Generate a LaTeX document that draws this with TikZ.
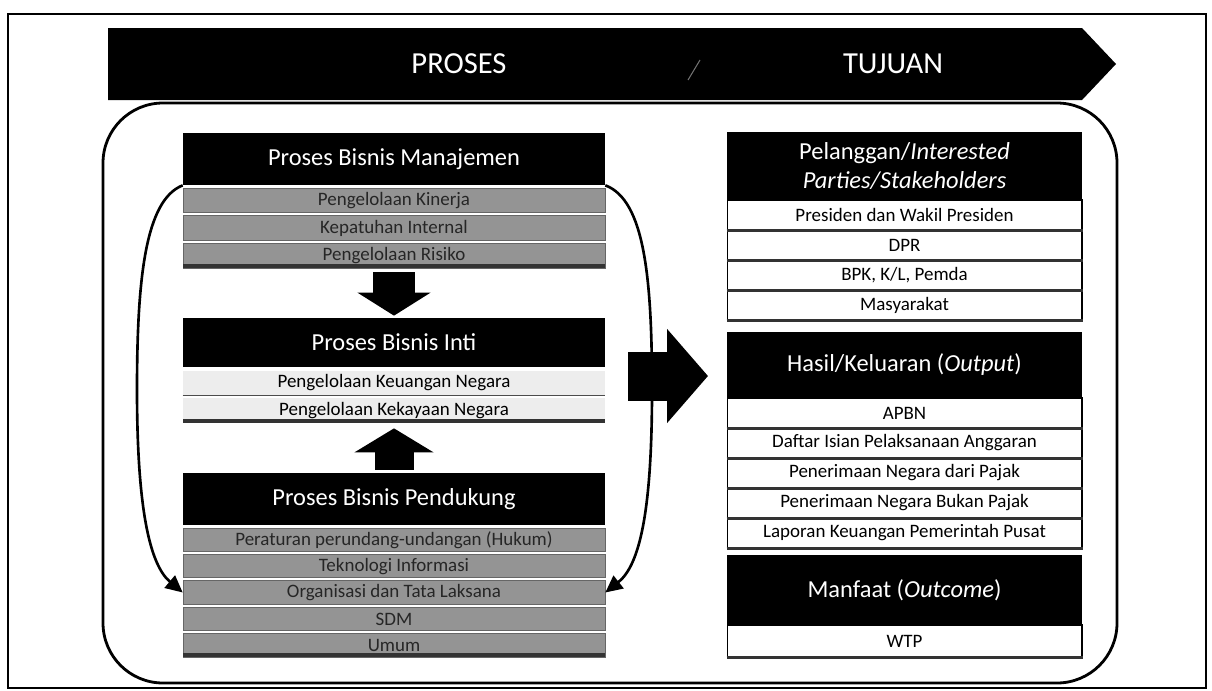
\documentclass[tikz,border=0pt]{standalone}
\usepackage{fontspec}
\setmainfont{Carlito}
\usetikzlibrary{arrows.meta,calc}
\begin{document}
\begin{tikzpicture}[x=0.02cm,y=-0.02cm,
  hfont/.style={font=\fontsize{13.9}{16.5}\selectfont},
  rfont/.style={font=\fontsize{10.8}{12}\selectfont},
  lhead/.style={rectangle,fill=black,text=white,inner sep=0pt,minimum width=8.44cm,hfont},
  lrow/.style={rectangle,fill=black!42,draw=black!60,line width=0.4pt,text=black!85,inner sep=0pt,minimum width=8.44cm,minimum height=0.468cm,rfont},
  irow/.style={rectangle,fill=black!7,text=black,inner sep=0pt,minimum width=8.44cm,minimum height=0.5cm,rfont},
  rhead/.style={rectangle,fill=black,text=white,inner sep=0pt,minimum width=7.1cm,align=center,hfont},
  rrow/.style={rectangle,fill=white,draw=black,line width=0.6pt,text=black,inner sep=0pt,minimum width=7.1cm,minimum height=0.6cm,rfont},
  arc/.style={line width=1.5pt,-{Triangle[length=0.34cm,width=0.32cm]}},
  banner/.style={text=white,font=\fontsize{17.4}{20}\selectfont}
]
\useasboundingbox (0,0) rectangle (1212,690);
% page frame
\draw[line width=1pt] (8,14) rectangle (1206,688);
\draw[line width=1.6pt] (8,14) -- (1206,14);

% process / goal banner
\fill[black] (108,28) -- (1082,28) -- (1116,64) -- (1082,100) -- (108,100) -- cycle;
\draw[black!55,line width=0.6pt] (700,60) -- (688,80);
\node[banner] (proses) at (459,64) {PROSES};
\node[banner] (tujuan) at (893,64) {TUJUAN};

% rounded container
\draw[line width=1.6pt,rounded corners=1.2cm] (103,103) rectangle (1117,683);

% management processes
\node[lhead,minimum height=1.04cm] (mgmtH) at (394,159) {Proses Bisnis Manajemen};
\node[lrow,minimum height=0.492cm] (m1) at (394,200.3) {Pengelolaan Kinerja};
\node[lrow,minimum height=0.492cm] (m2) at (394,228) {Kepatuhan Internal};
\node[lrow,minimum height=0.492cm] (m3) at (394,255.7) {Pengelolaan Risiko};
\fill[black!80] (m3.south west) rectangle ($(m3.south east)+(0,-4)$);

% core processes
\node[lhead,minimum height=0.98cm] (intiH) at (394,342.5) {Proses Bisnis Inti};
\node[irow] (i1) at (394,383) {Pengelolaan Keuangan Negara};
\node[irow] (i2) at (394,410.5) {Pengelolaan Kekayaan Negara};
\fill[black!80] (i2.south west) rectangle ($(i2.south east)+(0,-4)$);
\draw[black!70,line width=0.5pt] (i1.south west) -- (i1.south east);

% supporting processes
\node[lhead,minimum height=1.04cm] (pendH) at (394,499) {Proses Bisnis Pendukung};
\node[lrow] (p1) at (394,539.7) {Peraturan perundang-undangan (Hukum)};
\node[lrow] (p2) at (394,566.1) {Teknologi Informasi};
\node[lrow] (p3) at (394,592.5) {Organisasi dan Tata Laksana};
\node[lrow] (p4) at (394,618.9) {SDM};
\node[lrow] (p5) at (394,645.3) {Umum};
\fill[black!80] (p5.south west) rectangle ($(p5.south east)+(0,-4)$);

% flow between the process groups
\draw[line width=0.84cm,-{Triangle[length=0.46cm,width=1.44cm]},shorten <=0.08cm,shorten >=0.04cm] (m3.south) -- (intiH.north);
\draw[line width=0.78cm,-{Triangle[length=0.48cm,width=1.56cm]},shorten <=0.06cm,shorten >=0.1cm] (pendH.north) -- (i2.south);

% feedback loops
\draw[arc] (mgmtH.south west) .. controls (145,200) and (137,280) .. (137,390)
  .. controls (137,510) and (150,565) .. (p3.west);
\draw[arc] (mgmtH.south east) .. controls (645,200) and (652,280) .. (652,390)
  .. controls (652,510) and (640,565) .. (p3.east);

% main flow towards the goals
\coordinate (ra) at (628,376);
\coordinate (rb) at (708,376);
\draw[line width=0.98cm,-{Triangle[length=0.82cm,width=1.84cm]}] (ra) -- (rb);

% stakeholders
\node[rhead,minimum height=1.36cm] (pelH) at (904.5,166) {Pelanggan/\textit{Interested}\\\textit{Parties/Stakeholders}};
\node[rrow] (r1) at (904.5,215) {Presiden dan Wakil Presiden};
\node[rrow] (r2) at (904.5,245) {DPR};
\node[rrow] (r3) at (904.5,275) {BPK, K/L, Pemda};
\node[rrow] (r4) at (904.5,305) {Masyarakat};

% outputs
\node[rhead,minimum height=1.32cm] (hasH) at (904.5,365) {Hasil/Keluaran (\textit{Output})};
\node[rrow] (h1) at (904.5,413) {APBN};
\node[rrow] (h2) at (904.5,443) {Daftar Isian Pelaksanaan Anggaran};
\node[rrow] (h3) at (904.5,473) {Penerimaan Negara dari Pajak};
\node[rrow] (h4) at (904.5,503) {Penerimaan Negara Bukan Pajak};
\node[rrow] (h5) at (904.5,533) {Laporan Keuangan Pemerintah Pusat};

% outcome
\node[rhead,minimum height=1.4cm] (manH) at (904.5,590) {Manfaat (\textit{Outcome})};
\node[rrow,minimum height=0.64cm] (wtp) at (904.5,641) {WTP};

\foreach \n in {r1,r2,r3,r4,h1,h2,h3,h4,h5,wtp}
  \draw[black!80,line width=1.4pt] (\n.south west) -- (\n.south east);
\end{tikzpicture}
\end{document}
